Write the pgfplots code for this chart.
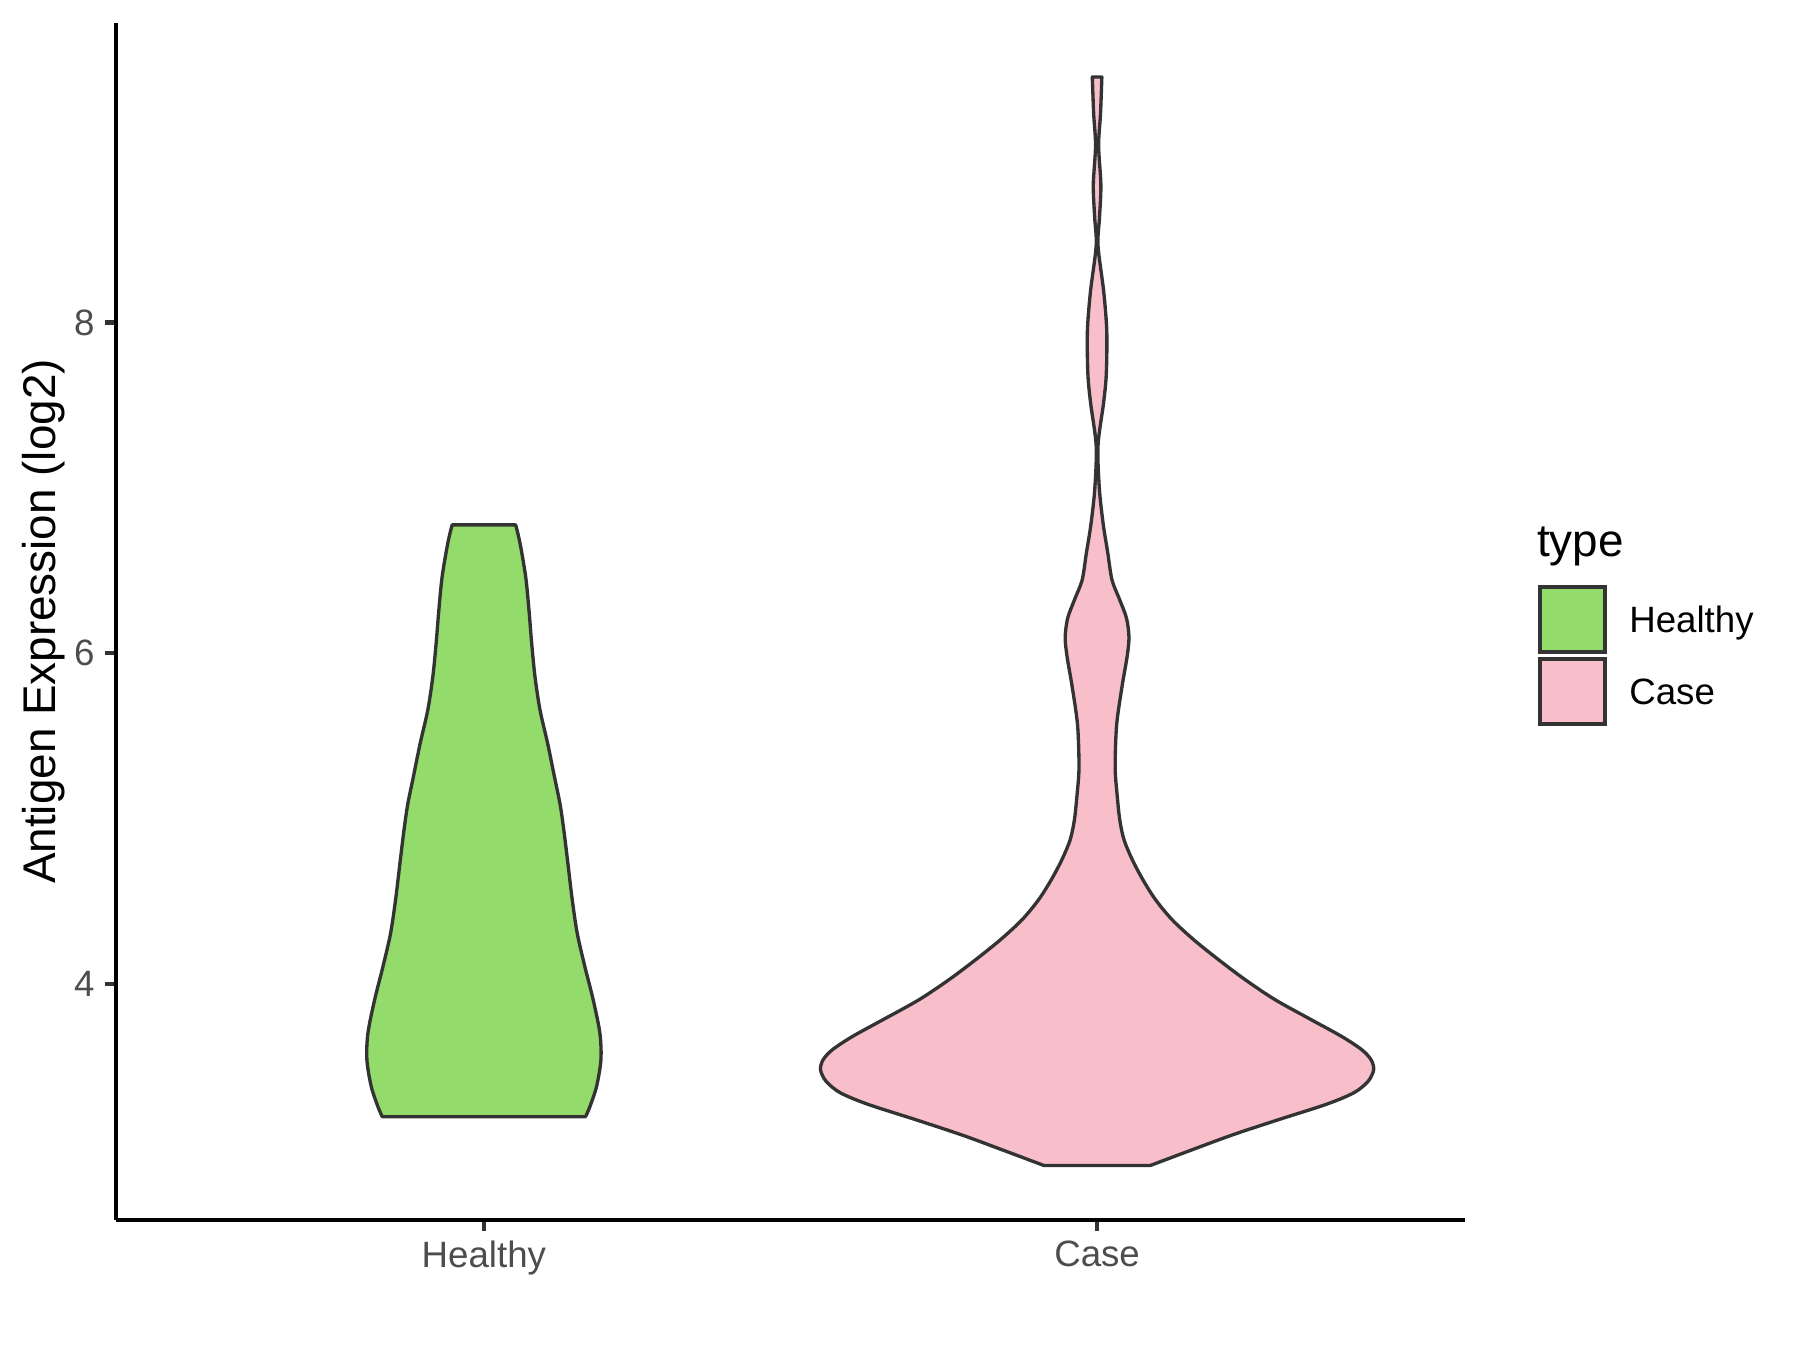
\documentclass[border=0pt]{standalone}
\usepackage{fontspec}
\setmainfont{Liberation Sans}
\usepackage{pgfplots}
\usepackage{pgfplotstable}
\pgfplotsset{compat=1.18}
\usepgfplotslibrary{fillbetween}
\definecolor{healthygreen}{HTML}{93DB6A}
\definecolor{casepink}{HTML}{F8BFCB}
\definecolor{outline}{HTML}{333333}
\definecolor{ticktext}{HTML}{4D4D4D}

% violin outlines: y value and half width (x units)
\pgfplotstableread{
y hw
3.196 0.1658
3.257 0.1729
3.378 0.1837
3.539 0.1908
3.700 0.1892
3.902 0.1783
4.103 0.1647
4.305 0.1522
4.507 0.1441
4.708 0.1376
4.910 0.1310
5.080 0.1245
5.253 0.1150
5.455 0.1039
5.656 0.0915
5.858 0.0833
6.060 0.0779
6.261 0.0735
6.463 0.0681
6.665 0.0589
6.776 0.0518
}\healthy

\pgfplotstableread{
y hw
2.901 0.087
2.993 0.153
3.086 0.221
3.178 0.296
3.271 0.374
3.341 0.419
3.410 0.442
3.479 0.451
3.539 0.447
3.600 0.432
3.680 0.3995
3.781 0.350
3.902 0.291
4.023 0.2421
4.144 0.1986
4.265 0.158
4.386 0.1227
4.507 0.0956
4.628 0.0749
4.749 0.0576
4.870 0.044
4.991 0.0370
5.150 0.0325
5.309 0.0295
5.563 0.0318
5.794 0.0405
5.980 0.049
6.096 0.052
6.211 0.048
6.327 0.0364
6.443 0.0243
6.607 0.0174
6.780 0.0100
6.996 0.0037
7.255 0.0015
7.514 0.0106
7.687 0.0150
7.947 0.0158
8.184 0.0109
8.465 0.0015
8.638 0.0040
8.832 0.0062
9.070 0.0025
9.264 0.0056
9.485 0.0078
}\casedata

\begin{document}
\begin{tikzpicture}
\begin{axis}[
    scale only axis,
    width=323.76pt,
    height=287.28pt,
    xmin=0.4, xmax=2.6,
    ymin=2.571, ymax=9.812,
    axis x line=bottom,
    axis y line=left,
    axis line style={-, black, line width=1.1pt},
    xtick={1,2},
    xticklabels={Healthy,Case},
    ytick={4,6,8},
    tick align=outside,
    major tick length=2.75pt,
    tick style={outline, line width=1pt},
    minor tick num=0,
    /pgf/number format/assume math mode=true,
    x tick label style={font=\fontsize{8.8}{10}\selectfont, text=ticktext, inner sep=0pt, yshift=-2.0pt},
    y tick label style={font=\fontsize{8.8}{10}\selectfont, text=ticktext, inner sep=0pt, xshift=-2.2pt},
    ylabel={Antigen Expression (log2)},
    every axis y label/.style={at={(axis description cs:0,0.5)}, xshift=-14.6pt, rotate=90,
        anchor=base, font=\fontsize{11}{13}\selectfont},
]
\addplot[name path=hR, draw=none, smooth] table[x expr=1+\thisrow{hw}, y=y] {\healthy};
\addplot[name path=hL, draw=none, smooth] table[x expr=1-\thisrow{hw}, y=y] {\healthy};
\addplot[fill=healthygreen, draw=outline, line width=0.8pt, line join=round]
    fill between[of=hR and hL, reverse=true];

\addplot[name path=cR, draw=none, smooth] table[x expr=2+\thisrow{hw}, y=y] {\casedata};
\addplot[name path=cL, draw=none, smooth] table[x expr=2-\thisrow{hw}, y=y] {\casedata};
\addplot[fill=casepink, draw=outline, line width=0.8pt, line join=round]
    fill between[of=cR and cL, reverse=true];
\end{axis}

% legend
\node[anchor=base west, inner sep=0pt, font=\fontsize{11}{13}\selectfont] at (340.9pt,159.3pt) {type};
\draw[outline, fill=healthygreen, line width=1pt] (341.7pt,136.4pt) rectangle (357.3pt,152.0pt);
\draw[outline, fill=casepink, line width=1pt] (341.7pt,119.0pt) rectangle (357.3pt,134.6pt);
\node[anchor=base west, inner sep=0pt, font=\fontsize{8.8}{10}\selectfont] at (363.0pt,141.1pt) {Healthy};
\node[anchor=base west, inner sep=0pt, font=\fontsize{8.8}{10}\selectfont] at (363.0pt,123.6pt) {Case};

\pgfresetboundingbox
\useasboundingbox (-27.84pt,-31.2pt) rectangle (404.16pt,292.8pt);
\end{tikzpicture}
\end{document}
